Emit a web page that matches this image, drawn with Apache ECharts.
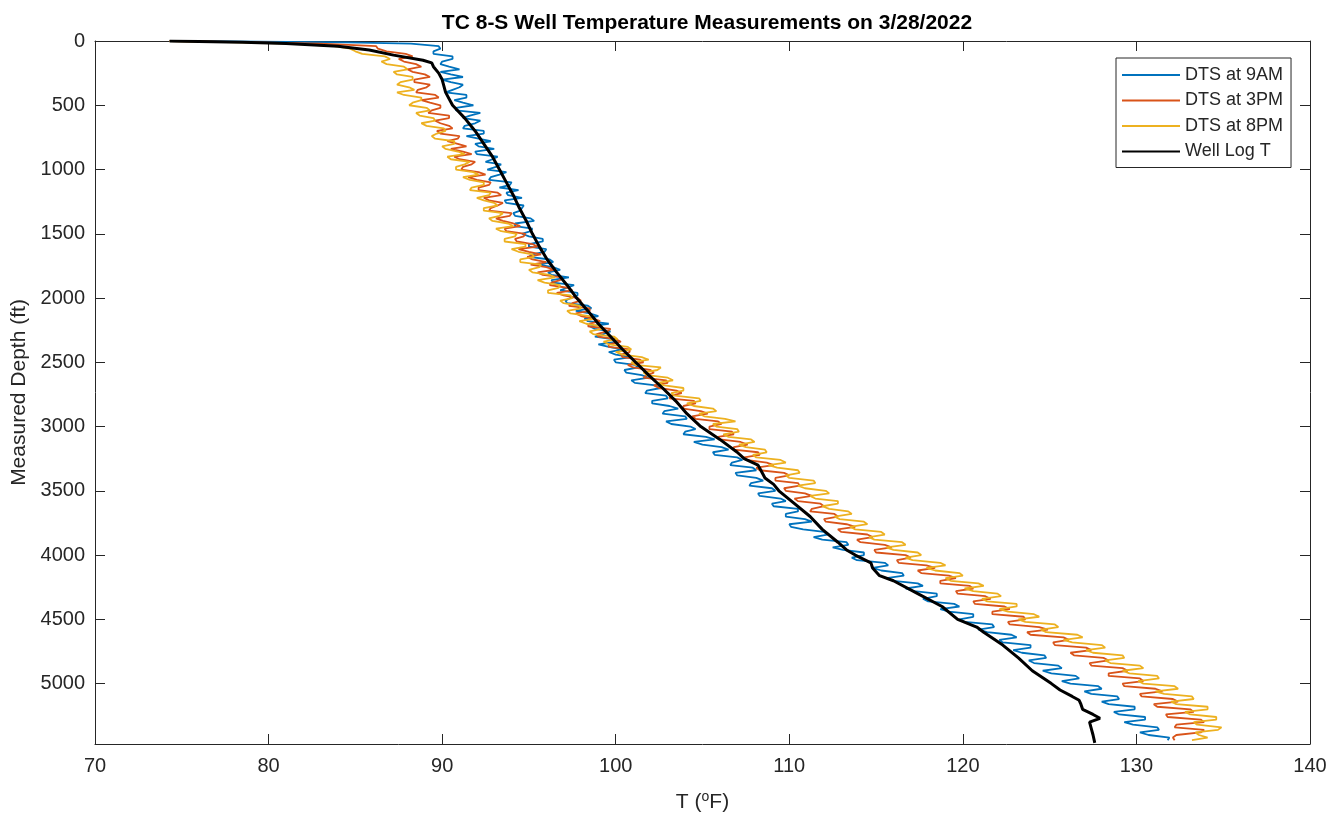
<!DOCTYPE html>
<html>
<head>
<meta charset="utf-8">
<script src="https://cdn.jsdelivr.net/npm/echarts@6/dist/echarts.min.js"></script>
<style>
html,body{margin:0;padding:0;background:#fff;}
#chart{width:1338px;height:819px;}
</style>
</head>
<body>
<div id="chart"></div>
<script>
//DTS sampling depths (ft), even readings
var dtsDepth = [0,10,20,
    40,80,120,160,200,240,280,320,360,400,
    440,480,520,560,600,640,680,720,760,800,
    840,880,920,960,1000,1040,1080,1120,1160,1200,
    1240,1280,1320,1360,1400,1440,1480,1520,1560,1600,
    1640,1680,1720,1760,1800,1840,1880,1920,1960,2000,
    2040,2080,2120,2160,2200,2240,2280,2320,2360,2400,
    2440,2480,2520,2560,2600,2640,2680,2720,2760,2800,
    2840,2880,2920,2960,3000,3040,3080,3120,3160,3200,
    3240,3280,3320,3360,3400,3440,3480,3520,3560,3600,
    3640,3680,3720,3760,3800,3840,3880,3920,3960,4000,
    4040,4080,4120,4160,4200,4240,4280,4320,4360,4400,
    4440,4480,4520,4560,4600,4640,4680,4720,4760,4800,
    4840,4880,4920,4960,5000,5040,5080,5120,5160,5200,
    5240,5280,5320,5360,5400,5440];
//DTS at 9AM (F)
var dts9am = [74.3,84.5,88.2,
    89.8,89.5,90.6,90.0,90.4,89.9,91.2,90.5,91.0,90.2,
    91.4,91.2,90.8,92.2,91.2,91.9,91.2,92.4,92.1,91.9,
    93.0,92.0,92.9,93.4,92.6,93.3,92.7,93.9,94.4,93.8,
    93.6,94.7,94.5,94.2,95.3,94.2,95.1,95.0,95.8,95.0,
    95.9,95.0,96.4,96.4,96.1,97.3,96.4,97.2,97.8,97.4,
    97.2,98.6,98.5,98.2,99.6,98.8,99.3,99.8,99.0,100.4,
    100.0,99.9,101.1,100.5,101.5,100.9,102.3,101.8,102.9,102.1,
    103.1,102.8,104.0,102.9,104.3,104.0,105.2,104.5,106.1,105.6,
    107.0,106.7,107.9,106.9,108.1,107.8,109.0,108.2,109.5,109.0,
    110.5,109.8,110.9,110.0,110.8,112.2,111.9,113.4,113.1,114.3,
    113.9,115.7,115.3,116.6,116.0,117.7,117.2,118.5,118.0,119.8,
    119.2,120.6,120.1,121.8,121.4,123.1,122.3,123.9,123.4,124.8,
    124.1,125.7,125.1,126.7,126.2,128.0,127.4,129.0,128.4,129.9,
    129.0,130.5,129.8,131.3,130.7,131.8];
//DTS at 3PM (F)
var dts3pm = [74.3,79.5,83.0,
    86.2,86.8,88.3,87.8,88.8,88.3,89.3,88.4,89.1,88.5,
    89.8,89.3,89.9,89.2,90.4,89.9,90.6,89.9,90.9,90.9,
    90.5,91.7,91.0,91.7,91.1,92.5,92.0,92.7,92.1,93.4,
    92.7,93.2,92.7,93.9,93.5,94.5,93.7,94.7,94.3,95.5,
    95.0,94.9,96.0,96.0,95.5,96.9,96.3,97.2,96.6,97.8,
    97.5,98.5,97.7,98.7,98.5,99.7,98.9,100.0,99.6,100.8,
    100.3,101.4,100.7,102.0,101.8,102.9,102.2,103.5,103.2,104.5,
    103.9,104.9,104.4,105.9,105.4,106.7,105.9,107.2,106.8,108.2,
    107.4,108.7,108.1,109.7,109.2,110.5,109.7,110.9,110.3,111.8,
    111.3,112.6,112.0,113.3,112.8,114.5,113.9,115.5,114.9,116.7,
    116.2,117.9,117.4,119.2,118.7,120.4,119.6,121.3,120.6,122.4,
    121.7,123.5,122.6,124.4,123.7,125.8,125.2,127.1,126.2,128.1,
    127.3,129.2,128.4,130.2,129.2,131.1,130.2,132.1,131.0,133.1,
    131.7,133.7,132.3,133.9,132.3,132.2];
//DTS at 8PM (F)
var dts8pm = [74.3,78.3,81.2,
    83.8,85.0,86.7,86.5,87.8,87.2,88.3,87.6,88.1,87.4,
    88.8,88.3,89.1,88.5,89.5,88.8,90.1,89.7,89.6,90.7,
    90.2,91.3,90.5,91.3,90.8,92.1,91.6,92.4,91.6,92.7,
    92.4,93.2,92.4,93.3,92.9,94.1,93.4,94.2,93.6,94.8,
    94.4,95.3,94.5,95.6,95.2,96.5,95.9,96.7,96.1,97.5,
    97.0,98.0,97.4,98.8,98.3,99.2,98.7,100.1,99.6,100.9,
    100.4,101.9,101.1,102.4,101.8,103.3,102.8,103.9,103.4,104.9,
    104.5,105.8,105.1,106.9,105.8,107.1,106.5,108.0,107.5,108.7,
    108.1,109.8,109.3,110.6,110.0,111.5,110.9,112.3,111.5,112.8,
    112.3,113.6,112.9,114.5,113.8,115.5,114.9,116.7,116.0,117.6,
    117.1,119.0,118.4,120.0,119.3,121.2,120.6,122.2,121.4,123.1,
    122.6,124.4,123.6,125.5,124.8,126.9,126.3,128.2,127.5,129.3,
    128.5,130.4,129.6,131.3,130.4,132.4,131.6,133.3,132.3,134.1,
    133.1,134.6,133.5,134.7,133.6,133.2];

//DTS odd readings, halfway between the even ones
var dtsDepthMid = [60,100,140,180,220,260,300,340,380,420,
    460,500,540,580,620,660,700,740,780,820,
    860,900,940,980,1020,1060,1100,1140,1180,1220,
    1260,1300,1340,1380,1420,1460,1500,1540,1580,1620,
    1660,1700,1740,1780,1820,1860,1900,1940,1980,2020,
    2060,2100,2140,2180,2220,2260,2300,2340,2380,2420,
    2460,2500,2540,2580,2620,2660,2700,2740,2780,2820,
    2860,2900,2940,2980,3020,3060,3100,3140,3180,3220,
    3260,3300,3340,3380,3420,3460,3500,3540,3580,3620,
    3660,3700,3740,3780,3820,3860,3900,3940,3980,4020,
    4060,4100,4140,4180,4220,4260,4300,4340,4380,4420,
    4460,4500,4540,4580,4620,4660,4700,4740,4780,4820,
    4860,4900,4940,4980,5020,5060,5100,5140,5180,5220,
    5260,5300,5340,5380,5420];
var dts9amMid = [89.9,89.5,90.6,89.9,91.0,90.5,90.0,91.2,90.6,91.4,
    90.7,91.8,90.8,91.6,92.2,91.3,92.4,91.4,92.8,92.1,
    91.9,93.2,92.5,93.1,93.7,92.8,94.0,93.3,93.7,94.6,
    93.7,94.6,94.1,95.1,94.2,95.2,94.6,95.8,95.0,96.0,
    95.2,96.2,95.5,96.8,96.3,96.3,97.6,96.8,97.8,97.1,
    98.4,97.7,99.0,98.4,98.5,99.7,98.8,100.1,99.6,99.6,
    100.9,100.0,101.3,100.6,101.9,101.1,102.6,101.7,103.0,102.1,
    103.6,102.7,104.1,103.2,104.6,103.9,105.7,105.0,106.5,105.7,
    107.3,106.6,108.1,107.0,108.5,107.7,109.2,108.3,109.8,109.1,
    110.5,109.8,111.3,110.1,112.0,111.4,113.3,112.5,114.3,113.6,
    115.5,114.8,116.5,115.6,117.4,116.7,118.5,117.7,119.5,118.7,
    120.6,119.8,121.7,120.9,122.8,122.1,123.9,122.9,124.7,123.8,
    125.5,124.6,126.5,125.7,127.8,127.0,128.9,128.0,129.9,128.7,
    130.5,129.3,131.2,130.2,131.9];
var dts3pmMid = [86.3,87.9,87.5,88.5,88.0,89.0,88.4,89.3,88.6,89.6,
    88.8,89.9,89.4,90.4,89.6,90.4,89.7,91.0,90.3,91.4,
    91.2,90.7,91.9,91.2,92.1,91.5,92.8,92.1,93.2,92.4,
    93.5,92.8,94.0,93.1,94.1,93.6,94.8,94.2,95.2,94.4,
    95.7,95.2,95.1,96.5,95.8,96.8,96.2,97.5,97.0,98.0,
    97.3,98.5,98.0,99.1,98.4,99.5,99.0,100.3,99.6,100.8,
    100.4,101.6,101.0,102.2,101.6,103.0,102.5,103.8,103.1,104.6,
    103.9,105.3,104.6,106.1,105.4,106.8,106.0,107.6,106.8,108.3,
    107.5,109.1,108.3,110.0,109.2,110.6,109.8,111.3,110.5,112.0,
    111.2,112.8,112.1,113.8,113.0,114.8,114.1,115.9,115.0,117.0,
    116.3,118.4,117.6,119.6,118.7,120.6,119.7,121.6,120.7,122.7,
    121.7,123.6,122.7,124.9,123.9,126.1,125.3,127.4,126.4,128.4,
    127.4,129.5,128.4,130.4,129.3,131.5,130.3,132.4,131.2,133.3,
    131.8,133.9,132.2,133.7,132.1];
var dts8pmMid = [84.7,85.4,87.0,86.8,88.0,87.4,88.3,87.4,88.4,87.8,
    88.8,88.1,89.3,88.7,89.6,89.1,90.2,89.4,90.7,90.0,
    90.9,90.3,91.6,90.8,91.8,91.2,92.4,91.7,92.8,92.0,
    93.0,92.4,93.5,92.7,93.8,93.1,94.3,93.6,94.8,94.0,
    95.2,94.5,95.7,95.0,96.2,95.5,96.8,96.1,97.4,96.8,
    97.9,97.2,98.5,97.9,99.2,98.5,99.9,99.3,100.7,100.0,
    101.5,100.9,102.6,101.6,103.0,102.4,103.9,103.2,104.8,104.1,
    105.6,104.8,106.3,105.6,107.0,106.2,107.8,107.1,108.6,107.9,
    109.5,108.8,110.5,109.8,111.4,110.5,112.1,111.2,112.8,111.9,
    113.4,112.6,114.3,113.5,115.3,114.6,116.5,115.6,117.4,116.7,
    118.7,117.9,119.8,119.0,120.9,120.1,122.0,121.1,123.1,122.1,
    124.1,123.2,125.3,124.5,126.6,125.8,128.0,127.1,129.2,128.2,
    130.2,129.2,131.2,130.1,132.2,131.1,133.2,132.0,134.1,132.8,
    134.6,133.3,134.9,133.4,134.1];

//well log
var logDepth = [0,10,20,40,70,110,150,170,200,250,
    300,400,500,600,700,800,900,1000,1100,1200,
    1300,1400,1500,1600,1700,1800,1900,2000,2100,2200,
    2300,2400,2500,2600,2700,2800,2900,3000,3100,3200,
    3250,3300,3350,3400,3450,3500,3600,3700,3800,3900,
    3960,4000,4060,4100,4160,4200,4300,4400,4500,4560,
    4600,4700,4800,4900,5000,5050,5100,5130,5160,5200,
    5240,5270,5300,5350,5400,5461];
var logTemp = [74.3,78.5,81.0,84.0,85.8,87.2,88.9,89.4,89.5,89.8,
    90.0,90.2,90.6,91.3,91.9,92.4,92.9,93.3,93.7,94.1,
    94.45,94.85,95.2,95.6,96.05,96.6,97.2,97.75,98.4,99.0,
    99.7,100.4,101.15,101.9,102.7,103.45,104.1,104.9,106.0,107.0,
    107.4,108.2,108.4,108.6,109.1,109.4,110.3,111.2,111.9,112.8,
    113.3,113.8,114.7,114.8,115.2,116.0,117.4,118.8,119.7,120.8,
    121.2,122.3,123.2,124.0,125.1,125.6,126.3,126.7,126.8,126.9,
    127.5,127.9,127.3,127.4,127.5,127.6];

var seriesNames = ["DTS at 9AM","DTS at 3PM","DTS at 8PM","Well Log T"];
var seriesColors = ["#0072BD","#D95319","#EDB120","#000000"];
//axis ranges
var tempMin = 70, tempMax = 140, tempStep = 10;
var depthMin = 0, depthMax = 5470, depthStep = 500;

var font = "Liberation Sans, Arial, Helvetica, sans-serif";
var ink = "#262626";

//[T, depth] pairs, several lists merged and ordered by depth
function toPairs(temps, depths, temps2, depths2) {
    var out = [];
    for (var i = 0; i < temps.length; i++) {
        out.push([temps[i], depths[i]]);
    }
    if (temps2) {
        for (var j = 0; j < temps2.length; j++) {
            out.push([temps2[j], depths2[j]]);
        }
        out.sort(function (a, b) { return a[1] - b[1]; });
    }
    return out;
}

function makeSeries(idx, data, width) {
    return {
        name: seriesNames[idx],
        type: 'line',
        data: data,
        symbol: 'none',
        showSymbol: false,
        color: seriesColors[idx],
        lineStyle: {color: seriesColors[idx], width: width},
        xAxisIndex: 0,
        yAxisIndex: 0,
        animation: false
    };
}

function xAx(pos, showLabel) {
    return {
        type: 'value', position: pos, min: tempMin, max: tempMax, interval: tempStep,
        axisLine: {show: true, onZero: false, lineStyle: {color: ink, width: 1}},
        axisTick: {show: true, inside: true, length: 10, lineStyle: {color: ink}},
        axisLabel: {show: showLabel, color: ink, fontSize: 20, fontFamily: font, margin: 12},
        splitLine: {show: false}
    };
}

function yAx(pos, showLabel) {
    return {
        type: 'value', position: pos, inverse: true, min: depthMin, max: depthMax, interval: depthStep,
        axisLine: {show: true, onZero: false, lineStyle: {color: ink, width: 1}},
        axisTick: {show: true, inside: true, length: 10, lineStyle: {color: ink}},
        axisLabel: {
            show: showLabel, color: ink, fontSize: 20, fontFamily: font, margin: 10,
            formatter: function (v) { return v % depthStep === 0 ? String(v) : ''; }
        },
        splitLine: {show: false}
    };
}

var myChart = echarts.init(document.getElementById('chart'), null, {renderer: 'canvas'});

var xBottom = xAx('bottom', true);
xBottom.name = 'T ({sup|o}F)';
xBottom.nameLocation = 'middle';
xBottom.nameGap = 46;
xBottom.nameTextStyle = {
    color: ink, fontSize: 21, fontFamily: font,
    rich: {sup: {fontSize: 14, fontFamily: font, color: ink, padding: [0, 0, 10, 0]}}
};

var yLeft = yAx('left', true);
yLeft.name = 'Measured Depth (ft)';
yLeft.nameLocation = 'middle';
yLeft.nameGap = 62;
yLeft.nameTextStyle = {color: ink, fontSize: 21, fontFamily: font};

var option = {
    backgroundColor: '#ffffff',
    animation: false,
    title: {
        text: 'TC 8-S Well Temperature Measurements on 3/28/2022',
        left: 702, textAlign: 'center', top: 8,
        textStyle: {color: '#000', fontSize: 21, fontWeight: 'bold', fontFamily: font}
    },
    legend: {
        data: seriesNames,
        orient: 'vertical',
        left: 1116, top: 58,
        backgroundColor: '#fff',
        borderColor: ink, borderWidth: 1,
        padding: [8, 8, 7, 6],
        icon: 'rect',
        itemWidth: 58, itemHeight: 2, itemGap: 7.5,
        textStyle: {color: ink, fontSize: 18, lineHeight: 18, fontFamily: font}
    },
    grid: {left: 95, right: 28, top: 41, bottom: 75, containLabel: false, outerBoundsMode: 'none'},
    xAxis: [xBottom, xAx('top', false)],
    yAxis: [yLeft, yAx('right', false)],
    series: [
        makeSeries(0, toPairs(dts9am, dtsDepth, dts9amMid, dtsDepthMid), 1.8),
        makeSeries(1, toPairs(dts3pm, dtsDepth, dts3pmMid, dtsDepthMid), 1.8),
        makeSeries(2, toPairs(dts8pm, dtsDepth, dts8pmMid, dtsDepthMid), 1.8),
        makeSeries(3, toPairs(logTemp, logDepth), 3)
    ]
};

myChart.setOption(option);
</script>
</body>
</html>
